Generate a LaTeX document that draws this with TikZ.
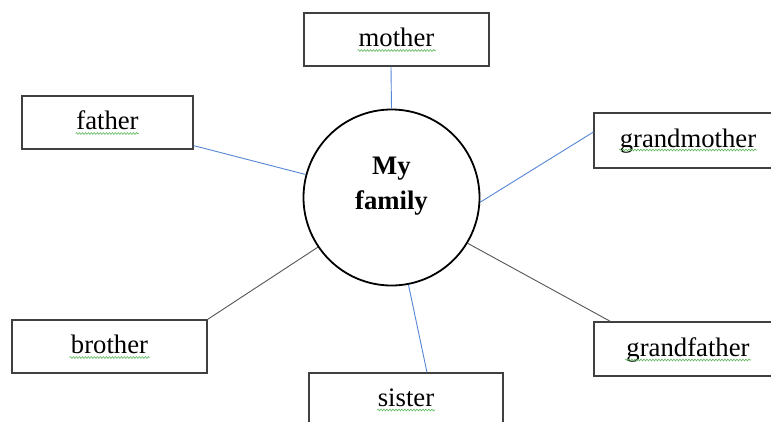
\documentclass[tikz,border=0pt]{standalone}
\usepackage{fontspec}
\setmainfont{Liberation Serif}
\usetikzlibrary{decorations.pathmorphing}
\definecolor{boxline}{HTML}{404040}
\definecolor{blueline}{HTML}{5585D6}
\definecolor{greyline}{HTML}{555555}
\definecolor{squigc}{HTML}{5DB85D}
\tikzset{
  wordbox/.style={draw=boxline, line width=1.2pt, fill=white, rectangle, inner sep=0pt,
    minimum height=53pt, text height=18pt, text depth=4pt,
    font=\fontsize{26.7}{32}\selectfont},
  bluecon/.style={draw=blueline, line width=0.9pt},
  greycon/.style={draw=greyline, line width=0.9pt},
  squig/.style={draw=squigc, line width=0.6pt, decorate,
    decoration={snake, amplitude=0.9pt, segment length=3pt}},
}
\begin{document}
\begin{tikzpicture}[x=1pt, y=-1pt]
\useasboundingbox (0,0) rectangle (771,421);
\clip (0,0) rectangle (771,421);
\fill[white] (0,0) rectangle (771,421);

\node[circle, draw=black, line width=1.8pt, minimum size=176pt, inner sep=0pt] (fam) at (391.5,197.5) {};
\node[align=center, font=\fontsize{26.7}{35}\selectfont\bfseries, inner sep=0pt] (famtext) at (391.5,186.4) {My\\family};

\node[wordbox, minimum width=185pt] (mother) at (396.5,39.5) {mother};
\node[wordbox, minimum width=171pt] (father) at (107.5,122.5) {father};
\node[wordbox, minimum width=188pt, minimum height=55pt] (grandmother) at (688,140.5) {grandmother};
\node[wordbox, minimum width=195pt] (brother) at (109.5,346.5) {brother};
\node[wordbox, minimum width=194pt] (sister) at (406,399.5) {sister};
\node[wordbox, minimum width=188pt, minimum height=54pt] (grandfather) at (688,349) {grandfather};

\draw[bluecon] ([xshift=-5.5pt]mother.south) -- (fam.90);
\draw[bluecon] ([yshift=4pt]father.south east) -- (fam.165);
\draw[bluecon] ([yshift=8.5pt]grandmother.west) -- (fam.-3);
\draw[greycon] (brother.north east) -- (fam.214.5);
\draw[bluecon] ([xshift=21pt]sister.north) -- (fam.-79);
\draw[greycon] ([xshift=17pt]grandfather.north west) -- (fam.-31.8);

\draw[squig] ([xshift=-39pt,yshift=-11pt]mother.center) -- ++(78,0);
\draw[squig] ([xshift=-32pt,yshift=-11pt]father.center) -- ++(63,0);
\draw[squig] ([xshift=-69pt,yshift=-9.5pt]grandmother.center) -- ++(138,0);
\draw[squig] ([xshift=-40pt,yshift=-11pt]brother.center) -- ++(80,0);
\draw[squig] ([xshift=-29pt,yshift=-10.5pt]sister.center) -- ++(58,0);
\draw[squig] ([xshift=-63pt,yshift=-11pt]grandfather.center) -- ++(126,0);
\end{tikzpicture}
\end{document}
